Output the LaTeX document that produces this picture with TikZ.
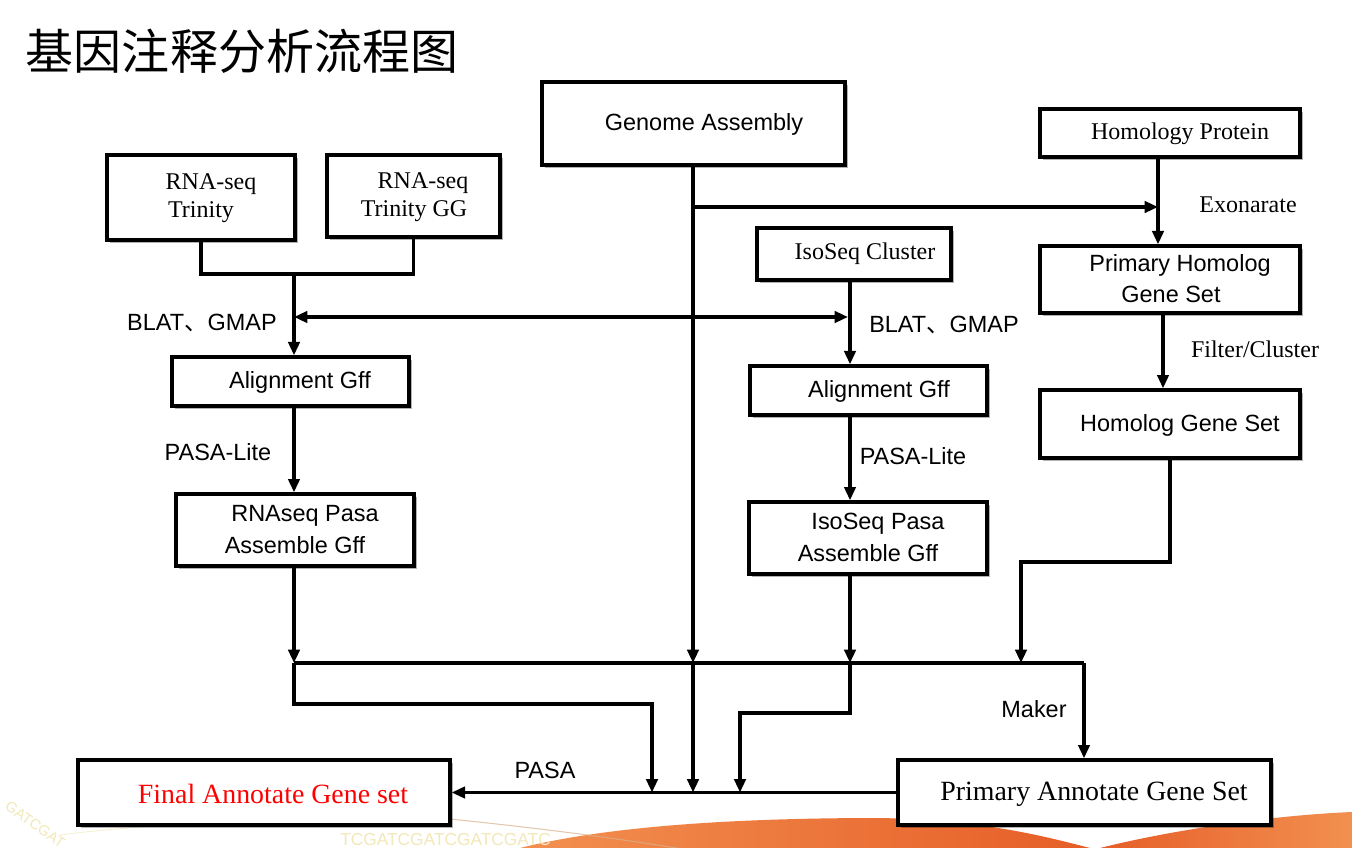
\documentclass[tikz,border=0pt]{standalone}
\usepackage{fontspec}
\setmainfont{Liberation Serif}
\setsansfont{Liberation Sans}
\newfontfamily\cjk{Noto Sans CJK SC}
\usetikzlibrary{arrows.meta,shadows,fit,calc}
\definecolor{orgA}{HTML}{F29050}
\definecolor{orgB}{HTML}{E65E28}
\definecolor{dnapale}{HTML}{F2E8B8}
\tikzset{
  box/.style={draw=black,line width=2.5pt,fill=white,inner sep=0pt,
    drop shadow={shadow xshift=2.5pt,shadow yshift=-2.5pt,fill=black,opacity=0.3}},
  sf/.style={font=\sffamily\fontsize{17.6}{21}\selectfont,inner sep=0pt},
  rm/.style={font=\rmfamily\fontsize{18}{21}\selectfont,inner sep=0pt},
  rmL/.style={font=\rmfamily\fontsize{20.9}{24}\selectfont,inner sep=0pt},
  ln/.style={line width=2.4pt,line join=miter},
  arr/.style={ln,-{Triangle[length=10pt,width=8.5pt]}},
  arrb/.style={ln,{Triangle[length=10pt,width=8.5pt]}-{Triangle[length=10pt,width=8.5pt]}}
}
\begin{document}
\begin{tikzpicture}[x=0.75pt,y=-0.75pt]
\useasboundingbox (0,0) rectangle (1352,848);
\fill[white] (0,0) rectangle (1352,848);
% background decoration
\begin{scope}
\clip (0,0) rectangle (1352,848);
\shade[left color=orgA,right color=orgB] (520,848) .. controls (600,828) and (720,818) .. (880,818) .. controls (980,820) and (1040,835) .. (1090,848) -- cycle;
\shade[left color=orgB,right color=orgA] (1100,848) .. controls (1180,828) and (1280,815) .. (1352,812) -- (1352,848) -- cycle;
\draw[color=brown!60,line width=0.8pt,opacity=0.7] (440,818) .. controls (520,826) and (620,838) .. (700,852);
\draw[color=dnapale!70!white,line width=0.6pt] (60,835) .. controls (160,822) and (300,818) .. (440,818);
\node[text=dnapale,font=\sffamily\fontsize{13}{13}\selectfont,anchor=south west,inner sep=0pt] (dna1) at (340,846) {TCGATCGATCGATCGATC};
\node[text=dnapale,font=\sffamily\fontsize{11}{11}\selectfont,rotate=-35,anchor=north west,inner sep=0pt] (dna2) at (10,800) {GATCGAT};
\end{scope}
% title
\node[font=\cjk\fontsize{36}{40}\selectfont,inner sep=0pt] (title) at (242,51) {基因注释分析流程图};
% boxes
\node[box,fit={(542,82) (845,165)}] (ga) {};
\node[box,fit={(1040,109) (1300,157)}] (hp) {};
\node[box,fit={(107,155) (295,240)}] (rt) {};
\node[box,fit={(327,155) (500,237)}] (rtg) {};
\node[box,fit={(757,228) (951,280)}] (ic) {};
\node[box,fit={(1040,246) (1300,313)}] (phg) {};
\node[box,fit={(172,357) (409,406)}] (ag1) {};
\node[box,fit={(750,366) (987,415)}] (ag2) {};
\node[box,fit={(1040,390) (1300,458)}] (hgs) {};
\node[box,fit={(176,494) (414,566)}] (rp) {};
\node[box,fit={(749,502) (987,574)}] (ip) {};
\node[box,fit={(78,760) (450,825)}] (fa) {};
\node[box,fit={(898,760) (1271,825)}] (pa) {};
% box texts
\node[sf] (tga) at (704,124) {Genome Assembly};
\node[rm] (thp) at (1180,134) {Homology Protein};
\node[rm] (trt1) at (211,184) {RNA-seq};
\node[rm] (trt2) at (201,212) {Trinity};
\node[rm] (trg1) at (423,183) {RNA-seq};
\node[rm] (trg2) at (414,211) {Trinity GG};
\node[rm] (tic) at (865,254) {IsoSeq Cluster};
\node[sf] (tph1) at (1180,265) {Primary Homolog};
\node[sf] (tph2) at (1171,294) {Gene Set};
\node[sf] (tag1) at (300,382) {Alignment Gff};
\node[sf] (tag2) at (879,391) {Alignment Gff};
\node[sf] (thg) at (1180,425) {Homolog Gene Set};
\node[sf] (trp1) at (305,516) {RNAseq Pasa};
\node[sf] (trp2) at (295,545) {Assemble Gff};
\node[sf] (tip1) at (878,524) {IsoSeq Pasa};
\node[sf] (tip2) at (868,553) {Assemble Gff};
\node[rmL,text=red] (tfa) at (273,794) {Final Annotate Gene set};
\node[rmL] (tpa) at (1094,794) {Primary Annotate Gene Set};
% edge labels
\node[sf] (l1) at (202,323) {BLAT{\cjk 、}GMAP};
\node[sf] (l2) at (944,325) {BLAT{\cjk 、}GMAP};
\node[sf] (l3) at (218,452) {PASA-Lite};
\node[sf] (l4) at (913,456) {PASA-Lite};
\node[rm] (l5) at (1248,205) {Exonarate};
\node[rm] (l6) at (1255,349) {Filter/Cluster};
\node[sf] (l7) at (1034,709) {Maker};
\node[sf] (l8) at (545,770) {PASA};
% coordinates
\coordinate (xa) at (294,0);
\coordinate (xg) at (693,0);
\coordinate (xi) at (850,0);
\coordinate (xh1) at (1158,0);
\coordinate (xh2) at (1163,0);
\coordinate (xm) at (1021,0);
\coordinate (xp) at (1084,0);
\coordinate (xq) at (652,0);
\coordinate (xr) at (740,0);
\coordinate (ybus) at (0,663);
\coordinate (yj) at (0,274);
\coordinate (yb1) at (0,704);
\coordinate (yb2) at (0,713);
\coordinate (e1) at (693,207);
\coordinate (bl) at (294,317);
\coordinate (br) at (848,317);
\coordinate (k1) at (1170,562);
\coordinate (k2) at (1021,562);
% connectors
\draw[ln] (rt.south) -- (rt.south |- yj) -- (rtg.south |- yj) -- (rtg.south);
\draw[arr] (xa |- yj) -- (xa |- ag1.north);
\draw[arrb] (bl) -- (br);
\draw[arr] (xa |- ag1.south) -- (xa |- rp.north);
\draw[arr] (xa |- rp.south) -- (xa |- ybus);
\draw[arr] (xi |- ic.south) -- (xi |- ag2.north);
\draw[arr] (xi |- ag2.south) -- (xi |- ip.north);
\draw[arr] (xi |- ip.south) -- (xi |- ybus);
\draw[arr] (xg |- ga.south) -- (xg |- ybus);
\draw[arr] (xg |- ybus) -- (xg |- fa.east);
\draw[arr] (e1) -- (xh1 |- e1);
\draw[arr] (xh1 |- hp.south) -- (xh1 |- phg.north);
\draw[arr] (xh2 |- phg.south) -- (xh2 |- hgs.north);
\draw[arr] (k1 |- hgs.south) -- (k1) -- (k2) -- (xm |- ybus);
\draw[ln] (xa |- ybus) -- (xp |- ybus);
\draw[arr] (xp |- ybus) -- (xp |- pa.north);
\draw[arr] (xa |- ybus) -- (xa |- yb1) -| (xq |- fa.east);
\draw[arr] (xi |- ybus) -- (xi |- yb2) -| (xr |- fa.east);
\draw[arr] (pa.west) -- (fa.east);
\end{tikzpicture}
\end{document}
